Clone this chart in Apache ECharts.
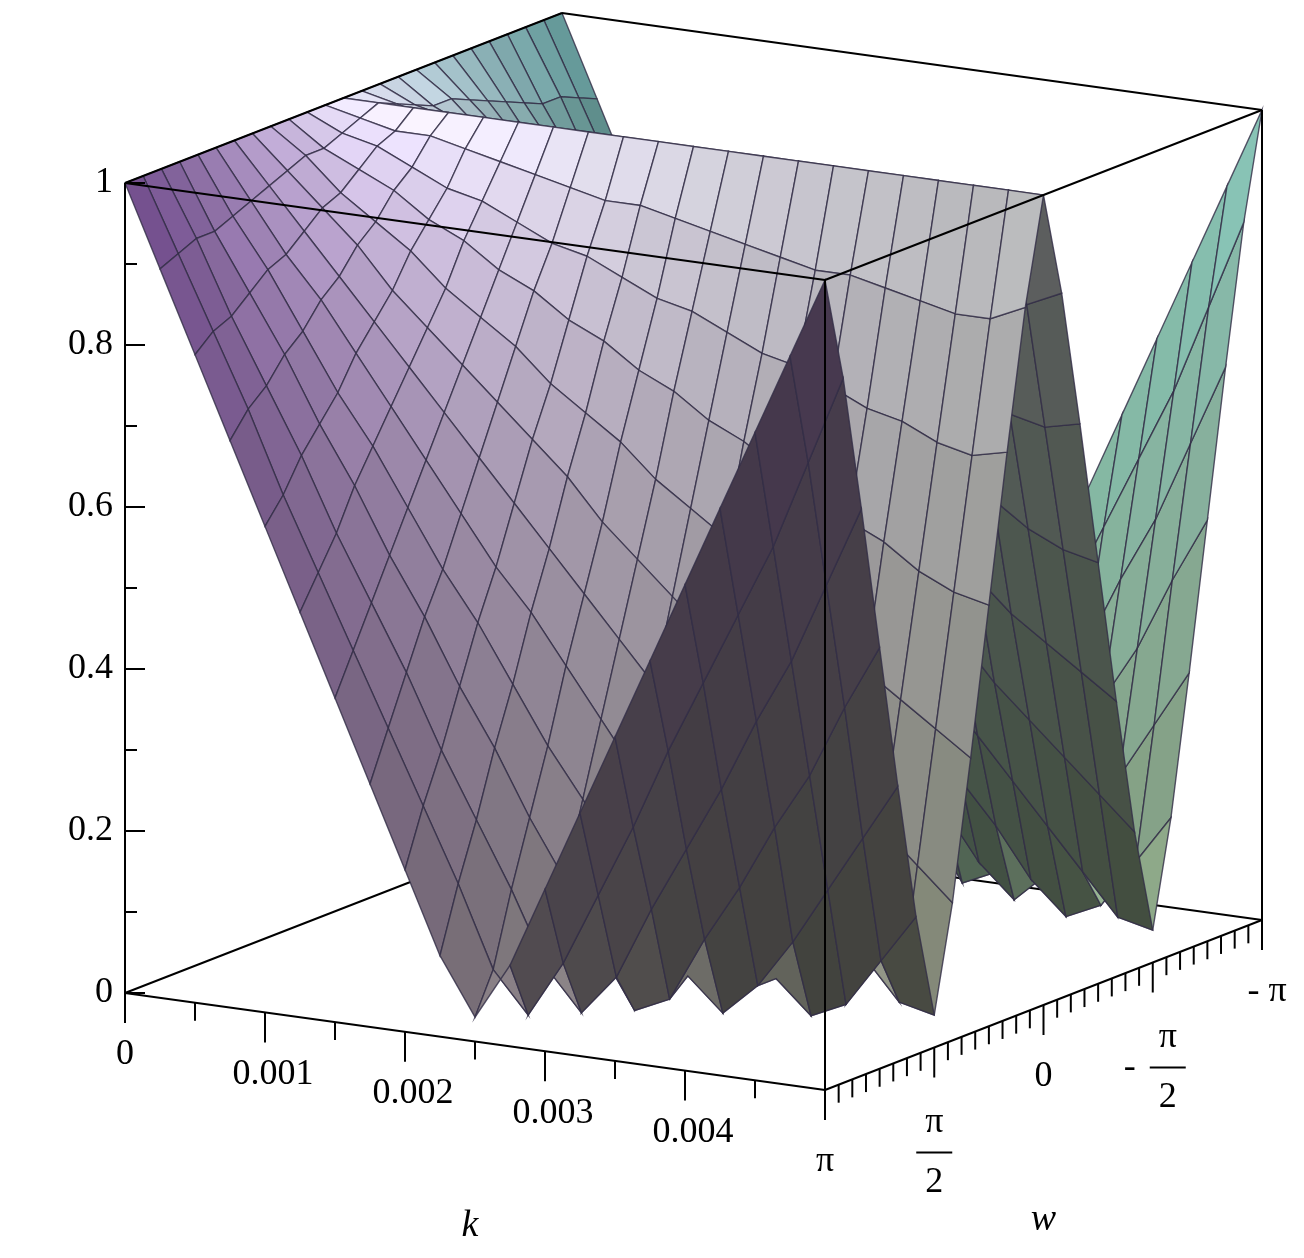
<!DOCTYPE html>
<html><head><meta charset="utf-8">
<script src="https://cdn.jsdelivr.net/npm/echarts@6/dist/echarts.min.js"></script>
<style>html,body{margin:0;padding:0;background:#fff}#c{width:1304px;height:1258px}</style>
</head><body><div id="c"></div>
<script>
const kValues=[0,0.00025,0.0005,0.00075,0.001,0.00125,0.0015,0.00175,0.002,0.00225,0.0025,0.00275,0.003,0.00325,0.0035,0.00375,0.004,0.00425,0.0045,0.00475,0.005];
const wTwelfths=[-12,-11,-10,-9,-8,-7,-6,-5,-4,-3,-2,-1,0,1,2,3,4,5,6,7,8,9,10,11,12];
const wValues=wTwelfths.map(t=>t*Math.PI/12);
const zValues=[
[1,1,1,1,1,1,1,1,1,1,1,1,1,1,1,1,1,1,1,1,1,1,1,1,1],
[.90,.91,.92,.92,.93,.94,.95,.96,.97,.97,.98,.99,1,.99,.98,.97,.97,.96,.95,.94,.93,.92,.92,.91,.90],
[.80,.82,.83,.85,.87,.88,.90,.92,.93,.95,.97,.98,1,.98,.97,.95,.93,.92,.90,.88,.87,.85,.83,.82,.80],
[.70,.73,.75,.78,.80,.83,.85,.88,.90,.93,.95,.98,1,.98,.95,.93,.90,.88,.85,.83,.80,.78,.75,.73,.70],
[.60,.63,.67,.70,.73,.77,.80,.83,.87,.90,.93,.97,1,.97,.93,.90,.87,.83,.80,.77,.73,.70,.67,.63,.60],
[.50,.54,.58,.63,.67,.71,.75,.79,.83,.88,.92,.96,1,.96,.92,.88,.83,.79,.75,.71,.67,.63,.58,.54,.50],
[.40,.45,.50,.55,.60,.65,.70,.75,.80,.85,.90,.95,1,.95,.90,.85,.80,.75,.70,.65,.60,.55,.50,.45,.40],
[.30,.36,.42,.48,.53,.59,.65,.71,.77,.83,.88,.94,1,.94,.88,.83,.77,.71,.65,.59,.53,.48,.42,.36,.30],
[.20,.27,.33,.40,.47,.53,.60,.67,.73,.80,.87,.93,1,.93,.87,.80,.73,.67,.60,.53,.47,.40,.33,.27,.20],
[.10,.18,.25,.33,.40,.48,.55,.63,.70,.78,.85,.93,1,.93,.85,.78,.70,.63,.55,.48,.40,.33,.25,.18,.10],
[.03,.08,.17,.25,.33,.42,.50,.58,.67,.75,.83,.92,1,.92,.83,.75,.67,.58,.50,.42,.33,.25,.17,.08,.03],
[.10,.03,.08,.18,.27,.36,.45,.54,.63,.73,.82,.91,1,.91,.82,.73,.63,.54,.45,.36,.27,.18,.08,.03,.10],
[.20,.10,.03,.10,.20,.30,.40,.50,.60,.70,.80,.90,1,.90,.80,.70,.60,.50,.40,.30,.20,.10,.03,.10,.20],
[.30,.19,.08,.03,.13,.24,.35,.46,.57,.68,.78,.89,1,.89,.78,.68,.57,.46,.35,.24,.13,.03,.08,.19,.30],
[.40,.28,.17,.05,.07,.18,.30,.42,.53,.65,.77,.88,1,.88,.77,.65,.53,.42,.30,.18,.07,.05,.17,.28,.40],
[.50,.38,.25,.13,.03,.13,.25,.38,.50,.63,.75,.88,1,.88,.75,.63,.50,.38,.25,.13,.03,.13,.25,.38,.50],
[.60,.47,.33,.20,.07,.07,.20,.33,.47,.60,.73,.87,1,.87,.73,.60,.47,.33,.20,.07,.07,.20,.33,.47,.60],
[.70,.56,.42,.28,.13,.03,.15,.29,.43,.58,.72,.86,1,.86,.72,.58,.43,.29,.15,.03,.13,.28,.42,.56,.70],
[.80,.65,.50,.35,.20,.05,.10,.25,.40,.55,.70,.85,1,.85,.70,.55,.40,.25,.10,.05,.20,.35,.50,.65,.80],
[.90,.76,.60,.44,.27,.11,.05,.21,.37,.53,.69,.85,1,.85,.69,.53,.37,.21,.05,.11,.27,.44,.60,.76,.90],
[1,.87,.70,.52,.34,.17,.04,.17,.34,.52,.70,.87,1,.87,.70,.52,.34,.17,.04,.17,.34,.52,.70,.87,1]];
const zTicks=[0,0.2,0.4,0.6,0.8,1];
const zTickLabels=['0','0.2','0.4','0.6','0.8','1'];
const kTicks=[0,0.001,0.002,0.003,0.004];
const kTickLabels=['0','0.001','0.002','0.003','0.004'];
const wTicks=[Math.PI,Math.PI/2,0,-Math.PI/2,-Math.PI];
const wTickLabels=[['π'],['π','2'],['0'],['π','2','-'],['- π']];

const KMAX=0.005;
const O=[125,993],KV=[700,97],WV=[437,-170],ZV=[0,-810];
function proj(k,w,z){const a=k/KMAX,b=(Math.PI-w)/(2*Math.PI);
 return [O[0]+a*KV[0]+b*WV[0]+z*ZV[0],O[1]+a*KV[1]+b*WV[1]+z*ZV[1]];}

const NI=kValues.length-1,NJ=wValues.length-1;
const cells=[];
for(let i=0;i<NI;i++)for(let j=0;j<NJ;j++){
 const zc=(zValues[i][j]+zValues[i+1][j]+zValues[i][j+1]+zValues[i+1][j+1])/4;
 cells.push([i,j,437*(i+0.5)/NI+700*(j+0.5)/NJ+199*zc]);}
cells.sort((a,b)=>a[2]-b[2]);

const L=(()=>{const v=[-0.3,-0.5,1];const n=Math.hypot(...v);return v.map(x=>x/n);})();
function lerp(c1,c2,t){return c1.map((v,i)=>v+(c2[i]-v)*t);}
function baseColor(y){const P=[165,110,205],M=[240,235,255],C=[150,235,235];
 return y<0.5?lerp(P,M,y/0.5):lerp(M,C,(y-0.5)/0.5);}

const chart=echarts.init(document.getElementById('c'));
function surfItem(params,api){
 const i=api.value(0),j=api.value(1);
 const q=[[i,j],[i+1,j],[i+1,j+1],[i,j+1]];
 const pts=q.map(([a,b])=>api.coord(proj(kValues[a],wValues[b],zValues[a][b])));
 const X=q.map(([a,b])=>[a/NI*1.6,(1-b/NJ)*1.2,zValues[a][b]]);
 const d1=[X[2][0]-X[0][0],X[2][1]-X[0][1],X[2][2]-X[0][2]];
 const d2=[X[3][0]-X[1][0],X[3][1]-X[1][1],X[3][2]-X[1][2]];
 let n=[d1[1]*d2[2]-d1[2]*d2[1],d1[2]*d2[0]-d1[0]*d2[2],d1[0]*d2[1]-d1[1]*d2[0]];
 const nl=Math.hypot(...n);n=n.map(x=>x/nl);if(n[2]<0)n=n.map(x=>-x);
 const dot=Math.max(0,n[0]*L[0]+n[1]*L[1]+n[2]*L[2]);
 const yAvg=X.reduce((s,p)=>s+p[1],0)/4/1.2, zAvg=X.reduce((s,p)=>s+p[2],0)/4;
 const aAvg=(i+0.5)/NI;
 let c=baseColor(yAvg);
 c=lerp(c,[125,145,95],Math.min(0.8,(1-zAvg)*0.5+aAvg*0.25));
 const f=0.45+0.65*dot;
 c=c.map(v=>Math.min(255,Math.round(v*f)));
 return {type:'polygon',shape:{points:pts},style:{fill:`rgb(${c})`,stroke:'rgba(50,45,70,0.8)',lineWidth:1.4}};
}
function seg(api,a,b,w){return {type:'line',shape:{x1:api.coord(a)[0],y1:api.coord(a)[1],x2:api.coord(b)[0],y2:api.coord(b)[1]},style:{stroke:'#000',lineWidth:w||2}};}
const PI=Math.PI;
function backItem(params,api){
 return {type:'group',children:[
  seg(api,proj(0,PI,0),proj(0,-PI,0)),seg(api,proj(0,-PI,0),proj(KMAX,-PI,0)),seg(api,proj(0,-PI,0),proj(0,-PI,1))]};}
const font='36px "Liberation Serif", serif';
function frontItem(params,api){
 const ch=[];
 const E=[[[0,PI,0],[KMAX,PI,0]],[[KMAX,PI,0],[KMAX,-PI,0]],[[0,PI,0],[0,PI,1]],[[KMAX,PI,0],[KMAX,PI,1]],[[KMAX,-PI,0],[KMAX,-PI,1]],
  [[0,PI,1],[KMAX,PI,1]],[[KMAX,PI,1],[KMAX,-PI,1]],[[KMAX,-PI,1],[0,-PI,1]],[[0,-PI,1],[0,PI,1]]];
 E.forEach(e=>ch.push(seg(api,proj(...e[0]),proj(...e[1]))));
 for(let t=0;t<=10;t++){const z=t/10,p=proj(0,PI,z);ch.push(seg(api,p,[p[0]+(t%2?12:20),p[1]],2));}
 zTicks.forEach((z,i)=>{const p=api.coord(proj(0,PI,z));ch.push({type:'text',style:{text:zTickLabels[i],x:p[0]-12,y:p[1],align:'right',verticalAlign:'middle',font:font,fill:'#000'}});});
 for(let t=0;t<=10;t++){const p=proj(t*0.0005,PI,0);ch.push(seg(api,p,[p[0],p[1]+(t%2?18:30)],2));}
 kTicks.forEach((k,i)=>{const p=api.coord(proj(k,PI,0));ch.push({type:'text',style:{text:kTickLabels[i],x:p[0]+(i?8:0),y:p[1]+62,align:'center',verticalAlign:'middle',font:font,fill:'#000'}});});
 for(let t=0;t<=32;t++){const p=proj(KMAX,PI-t*PI/16,0);ch.push(seg(api,p,[p[0],p[1]+(t%8?18:30)],2));}
 wTicks.forEach((w,i)=>{const p=api.coord(proj(KMAX,w,0));const lab=wTickLabels[i];
  if(lab.length===1){ch.push({type:'text',style:{text:lab[0],x:p[0]+(i===4?5:0),y:p[1]+72,align:'center',verticalAlign:'middle',font:font,fill:'#000'}});}
  else{const cx=p[0]+(i===3?15:0),cy=p[1]+105;
   ch.push({type:'text',style:{text:lab[0],x:cx,y:cy-30,align:'center',verticalAlign:'middle',font:font,fill:'#000'}});
   ch.push({type:'line',shape:{x1:cx-18,y1:cy,x2:cx+18,y2:cy},style:{stroke:'#000',lineWidth:2}});
   ch.push({type:'text',style:{text:lab[1],x:cx,y:cy+30,align:'center',verticalAlign:'middle',font:font,fill:'#000'}});
   if(lab[2])ch.push({type:'text',style:{text:lab[2],x:cx-38,y:cy,align:'center',verticalAlign:'middle',font:font,fill:'#000'}});}});
 const pk=api.coord(proj(0.0025,PI,0));ch.push({type:'text',style:{text:'k',x:pk[0]-5,y:pk[1]+185,align:'center',verticalAlign:'middle',font:'italic 38px "Liberation Serif", serif',fill:'#000'}});
 const pw=api.coord(proj(KMAX,0,0));ch.push({type:'text',style:{text:'w',x:pw[0],y:pw[1]+215,align:'center',verticalAlign:'middle',font:'italic 38px "Liberation Serif", serif',fill:'#000'}});
 return {type:'group',children:ch};}

chart.setOption({animation:false,
 grid:{left:0,right:0,top:0,bottom:0},
 xAxis:{type:'value',min:0,max:1304,show:false},
 yAxis:{type:'value',min:0,max:1258,inverse:true,show:false},
 series:[
  {type:'custom',silent:true,data:[[0]],renderItem:backItem,z:1},
  {type:'custom',silent:true,data:cells,renderItem:surfItem,z:2},
  {type:'custom',silent:true,data:[[0]],renderItem:frontItem,z:3}]});
</script></body></html>
